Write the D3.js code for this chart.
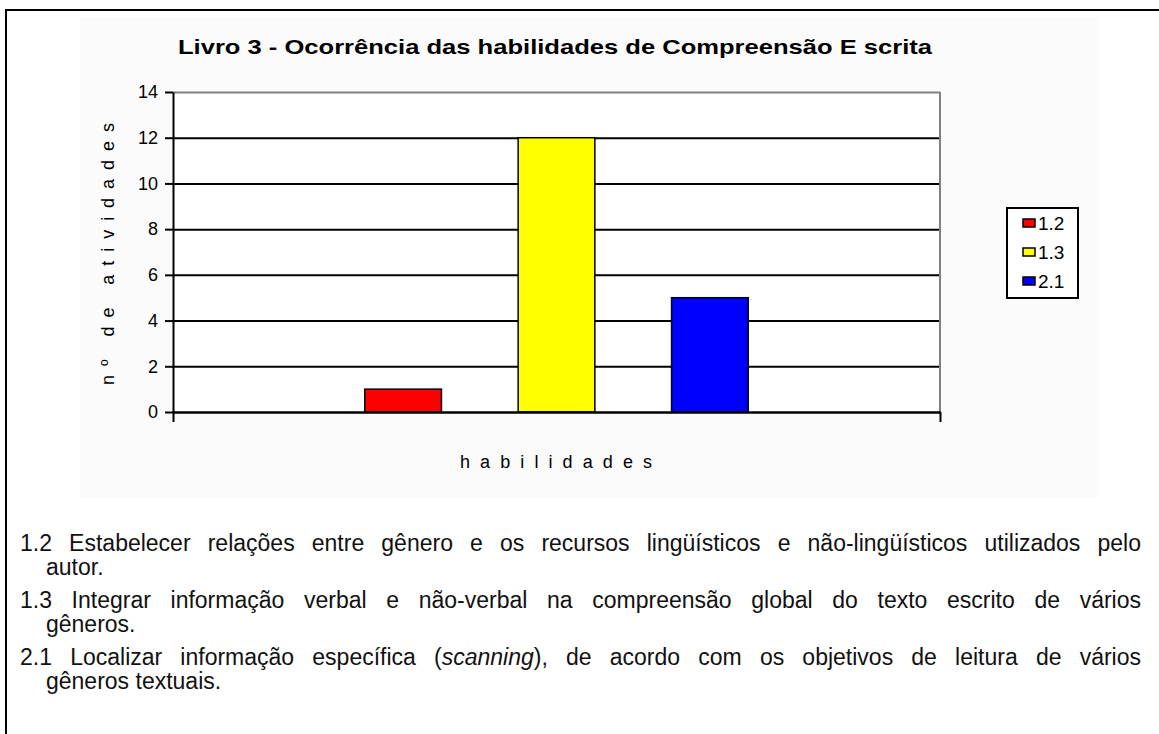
<!DOCTYPE html>
<html>
<head>
<meta charset="utf-8">
<script src="https://cdn.jsdelivr.net/npm/d3@7"></script>
<style>
body { margin: 0; background: #fff; font-family: Arial, "Liberation Sans", sans-serif; }
#wrap { position: relative; width: 1159px; height: 734px; overflow: hidden; }
#wrap svg { position: absolute; left: 0; top: 0; }
#notes { position: absolute; left: 20px; top: 531px; width: 1121px; font-size: 23px; line-height: 24px; color: #111; }
#notes .ln { text-align: justify; text-align-last: justify; }
#notes .last { text-align: left; padding-left: 26px; }
#notes .par { margin-bottom: 9px; }
</style>
</head>
<body>
<div id="wrap"></div>
<script>
// chart data
var title = "Livro 3 - Ocorrência das habilidades de Compreensão E scrita";
var series = ["1.2", "1.3", "2.1"];
var values = [1, 12, 5];
var yTicks = [0, 2, 4, 6, 8, 10, 12, 14];
var yTitle = "nº de atividades";
var xTitle = "habilidades";

// footnotes: first (justified) line and continuation line of each item
var noteFirst = [
    "1.2 Estabelecer relações entre gênero e os recursos lingüísticos e não-lingüísticos utilizados pelo",
    "1.3 Integrar informação verbal e não-verbal na compreensão global do texto escrito de vários",
    "2.1 Localizar informação específica (<i>scanning</i>), de acordo com os objetivos de leitura de vários"
];
var noteRest = ["autor.", "gêneros.", "gêneros textuais."];

var W = 1159, H = 734;
var plot = {left: 173, right: 940, top: 92, bottom: 412};

var svg = d3.select("#wrap").append("svg")
    .attr("width", W)
    .attr("height", H);

// page frame
svg.append("line").attr("x1", 5).attr("x2", W).attr("y1", 10).attr("y2", 10)
    .attr("stroke", "#000").attr("stroke-width", 2);
svg.append("line").attr("x1", 6).attr("x2", 6).attr("y1", 9).attr("y2", H)
    .attr("stroke", "#000").attr("stroke-width", 2);

// chart area
svg.append("rect").attr("x", 80).attr("y", 17).attr("width", 1017).attr("height", 480)
    .attr("fill", "#fbfbfb");
svg.append("rect").attr("x", plot.left).attr("y", plot.top)
    .attr("width", plot.right - plot.left).attr("height", plot.bottom - plot.top)
    .attr("fill", "#fff");

var y = d3.scaleLinear().domain([0, 14]).range([plot.bottom, plot.top]);
var x = d3.scaleBand().domain(series).range([plot.left, plot.right])
    .paddingInner(0.5).paddingOuter(1.25);
var color = d3.scaleOrdinal().domain(series).range(["#ff0000", "#ffff00", "#0000ff"]);

// gridlines
var grid = svg.append("g")
    .attr("transform", "translate(" + plot.left + ",0)")
    .call(d3.axisLeft(y).tickValues(yTicks.filter(function(d){ return d > 0; }))
        .tickSize(-(plot.right - plot.left)).tickFormat(""));
grid.select(".domain").remove();
grid.selectAll(".tick line")
    .attr("stroke", function(d){ return d === 14 ? "#808080" : "#000"; })
    .attr("stroke-width", 2);

// right border of plot
svg.append("line").attr("x1", plot.right).attr("x2", plot.right)
    .attr("y1", plot.top).attr("y2", plot.bottom)
    .attr("stroke", "#808080").attr("stroke-width", 2);

// bars
svg.selectAll(".bar")
    .data(values)
    .enter().append("rect")
    .attr("class", "bar")
    .attr("x", function(d, i){ return x(series[i]); })
    .attr("y", function(d){ return y(d); })
    .attr("width", x.bandwidth())
    .attr("height", function(d){ return y(0) - y(d); })
    .attr("fill", function(d, i){ return color(series[i]); })
    .attr("stroke", "#000")
    .attr("stroke-width", 1.5);

// y axis
var yAxis = svg.append("g")
    .attr("transform", "translate(" + plot.left + ",0)")
    .call(d3.axisLeft(y).tickValues(yTicks).tickSize(8).tickPadding(7).tickSizeOuter(0));
yAxis.select(".domain").attr("stroke-width", 2);
yAxis.selectAll(".tick line").attr("stroke-width", 2);
yAxis.selectAll("text")
    .attr("font-family", "Arial, 'Liberation Sans', sans-serif")
    .attr("font-size", 18)
    .attr("fill", "#000");

// x axis: one category spanning the plot, ticks at its edges
var xEdge = d3.scaleLinear().domain([0, 1]).range([plot.left, plot.right]);
var xAxis = svg.append("g")
    .attr("transform", "translate(0," + plot.bottom + ")")
    .call(d3.axisBottom(xEdge).tickValues([0, 1]).tickSize(10).tickSizeOuter(0).tickFormat(""));
xAxis.select(".domain").attr("stroke-width", 2.5);
xAxis.selectAll(".tick line").attr("stroke-width", 2);

// titles
svg.append("text")
    .attr("x", 555).attr("y", 54)
    .attr("text-anchor", "middle")
    .attr("font-family", "Arial, 'Liberation Sans', sans-serif")
    .attr("font-weight", "bold").attr("font-size", 21)
    .attr("textLength", 754).attr("lengthAdjust", "spacingAndGlyphs")
    .text(title);

svg.append("text")
    .attr("transform", "translate(114,254) rotate(-90)")
    .attr("text-anchor", "middle")
    .attr("font-family", "Arial, 'Liberation Sans', sans-serif")
    .attr("font-size", 18)
    .attr("textLength", 262).attr("lengthAdjust", "spacing")
    .text(yTitle);

svg.append("text")
    .attr("x", 556).attr("y", 468)
    .attr("text-anchor", "middle")
    .attr("font-family", "Arial, 'Liberation Sans', sans-serif")
    .attr("font-size", 18)
    .attr("textLength", 192).attr("lengthAdjust", "spacing")
    .text(xTitle);

// legend
var lg = svg.append("g").attr("transform", "translate(1007,208)");
lg.append("rect").attr("width", 71).attr("height", 90)
    .attr("fill", "#fff").attr("stroke", "#000").attr("stroke-width", 2);
var item = lg.selectAll(".item")
    .data(series)
    .enter().append("g")
    .attr("class", "item")
    .attr("transform", function(d, i){ return "translate(0," + (15 + i * 29) + ")"; });
item.append("rect")
    .attr("x", 16).attr("y", -4).attr("width", 12).attr("height", 8)
    .attr("fill", function(d){ return color(d); })
    .attr("stroke", "#000").attr("stroke-width", 1.5);
item.append("text")
    .attr("x", 31).attr("y", 7)
    .attr("font-family", "Arial, 'Liberation Sans', sans-serif")
    .attr("font-size", 19)
    .text(function(d){ return d; });

// footnotes
var notes = d3.select("#wrap").append("div").attr("id", "notes");
noteFirst.forEach(function(t, i){
    var p = notes.append("div").attr("class", "par");
    p.append("div").attr("class", "ln").html(t);
    p.append("div").attr("class", "last").text(noteRest[i]);
});
</script>
</body>
</html>
